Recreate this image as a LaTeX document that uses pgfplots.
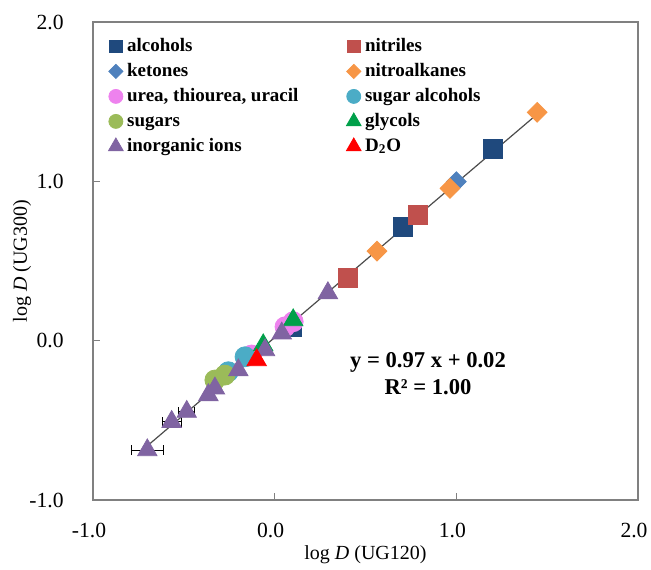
\documentclass[border=0pt]{standalone}
\usepackage{fontspec}
\setmainfont{Liberation Serif}
\usepackage{pgfplots}
\pgfplotsset{compat=1.18}
\definecolor{calc}{HTML}{1F497D}
\definecolor{cnit}{HTML}{C0504D}
\definecolor{cket}{HTML}{4F81BD}
\definecolor{cnal}{HTML}{F79646}
\definecolor{cure}{HTML}{EE82EE}
\definecolor{csal}{HTML}{4BACC6}
\definecolor{csug}{HTML}{9BBB59}
\definecolor{cgly}{HTML}{00A04A}
\definecolor{cion}{HTML}{8064A2}
\definecolor{cdo}{HTML}{FF0000}
\definecolor{axgray}{HTML}{808080}
\begin{document}
\begin{tikzpicture}
\begin{axis}[
 scale only axis, width=272.5pt, height=239pt,
 xmin=-1, xmax=2, ymin=-1, ymax=2,
 xtick={-1,0,1,2}, ytick={-1,0,1,2},
 xticklabels={-1.0,0.0,1.0,2.0}, yticklabels={-1.0,0.0,1.0,2.0},
 tick align=inside, tick pos=left, major tick length=3.5pt,
 axis line style={draw=axgray, line width=0.6pt},
 every tick/.style={axgray, line width=0.6pt},
 tick label style={font=\fontsize{10.8}{13}\selectfont},
 xticklabel style={anchor=north, inner sep=0pt, yshift=-11.5pt, xshift=-2pt},
 yticklabel style={anchor=east, inner sep=0pt, xshift=-14.5pt},
 xlabel={log \textit{D} (UG120)}, ylabel={log \textit{D} (UG300)},
 label style={font=\fontsize{10.6}{13}\selectfont},
 every axis x label/.style={at={(axis description cs:0.5,0)}, anchor=center, yshift=-27.5pt},
 every axis y label/.style={at={(axis description cs:0,0.5)}, rotate=90, anchor=center, yshift=35.5pt},
 legend columns=2,
 legend style={at={(0,1)}, anchor=north west, xshift=4.6pt, yshift=-3.75pt, draw=none, fill=none,
   font=\bfseries\fontsize{9.5}{11}\selectfont,
   nodes={text height=6.6pt, text depth=1.9pt, inner sep=0.2em},
   /tikz/every even column/.append style={column sep=22pt}},
 legend cell align=left,
 legend image code/.code={\path (0,0) (0.24cm,0); \draw[#1] plot coordinates {(0.12cm,0cm)};},
]
\addlegendimage{only marks, mark=square*, mark size=3.2pt, color=calc}
\addlegendentry{alcohols}
\addlegendimage{only marks, mark=square*, mark size=3.2pt, color=cnit}
\addlegendentry{nitriles}
\addlegendimage{only marks, mark=square*, mark size=2.5pt, mark options={rotate=45}, color=cket}
\addlegendentry{ketones}
\addlegendimage{only marks, mark=square*, mark size=2.5pt, mark options={rotate=45}, color=cnal}
\addlegendentry{nitroalkanes}
\addlegendimage{only marks, mark=*, mark size=3.5pt, color=cure}
\addlegendentry{urea, thiourea, uracil}
\addlegendimage{only marks, mark=*, mark size=3.5pt, color=csal}
\addlegendentry{sugar alcohols}
\addlegendimage{only marks, mark=*, mark size=3.5pt, color=csug}
\addlegendentry{sugars}
\addlegendimage{only marks, mark=triangle*, mark size=4.2pt, color=cgly}
\addlegendentry{glycols}
\addlegendimage{only marks, mark=triangle*, mark size=4.2pt, color=cion}
\addlegendentry{inorganic ions}
\addlegendimage{only marks, mark=triangle*, mark size=4.2pt, color=cdo}
\addlegendentry{D\textsubscript{2}O}

% error bars (drawn under the markers)
\addplot[only marks, mark=none, forget plot,
  error bars/.cd, x dir=both, x explicit,
  error bar style={black, line width=0.5pt},
  error mark options={black, mark size=2.5pt, line width=0.5pt, rotate=90}]
  coordinates {(-0.701,-0.687) +- (0.089,0) (-0.567,-0.509) +- (0.053,0) (-0.484,-0.446) +- (0.044,0)};

\addplot[only marks, forget plot, mark=square*, mark size=4.75pt, color=calc]
  coordinates {(1.203,1.206) (0.704,0.715) (0.095,0.085)};
\addplot[only marks, forget plot, mark=square*, mark size=4.75pt, color=cnit]
  coordinates {(0.790,0.789) (0.403,0.393)};
\addplot[only marks, forget plot, mark=square*, mark size=3.5pt, mark options={rotate=45}, color=cket]
  coordinates {(1.000,0.998)};
\addplot[only marks, forget plot, mark=square*, mark size=3.5pt, mark options={rotate=45}, color=cnal]
  coordinates {(1.445,1.433) (0.965,0.956) (0.563,0.562)};
\addplot[only marks, forget plot, mark=*, mark size=5pt, color=cure]
  coordinates {(0.102,0.119) (0.057,0.087) (-0.127,-0.090)};
\addplot[only marks, forget plot, mark=*, mark size=5pt, color=csal]
  coordinates {(-0.163,-0.101) (-0.255,-0.195)};
\addplot[only marks, forget plot, mark=*, mark size=5pt, color=csug]
  coordinates {(-0.274,-0.216) (-0.329,-0.247)};
\addplot[only marks, forget plot, mark=triangle*, mark size=5.6pt, color=cgly]
  coordinates {(0.102,0.129) (-0.063,-0.028)};
\addplot[only marks, forget plot, mark=triangle*, mark size=5.6pt, color=cion]
  coordinates {(0.293,0.299) (0.039,0.046) (-0.053,-0.059) (-0.200,-0.185) (-0.329,-0.299) (-0.365,-0.341) (-0.484,-0.446) (-0.567,-0.509) (-0.701,-0.687)};
\addplot[only marks, forget plot, mark=triangle*, mark size=5.6pt, color=cdo]
  coordinates {(-0.099,-0.122)};

% regression line y = 0.97 x + 0.02
\addplot[forget plot, no marks, color=black!70, line width=0.6pt]
  coordinates {(-0.74,-0.698) (1.46,1.436)};

\node[font=\bfseries\fontsize{11.3}{13.5}\selectfont, align=center] at (axis cs:0.844,-0.207) {y = 0.97 x + 0.02\\R² = 1.00};
\end{axis}
\pgfresetboundingbox
\path ([xshift=-46.5pt,yshift=-34.5pt]current axis.south west) rectangle ([xshift=6.5pt,yshift=11pt]current axis.north east);
\end{tikzpicture}
\end{document}
